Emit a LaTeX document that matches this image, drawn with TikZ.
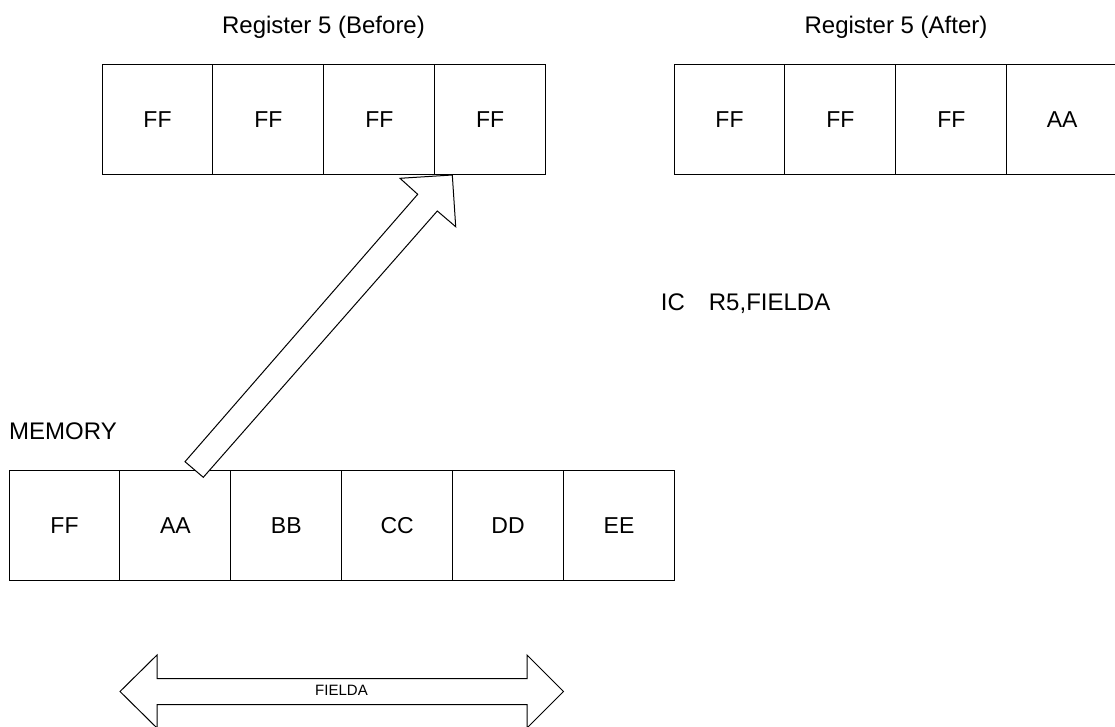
\documentclass[tikz,border=0pt]{standalone}
\usepackage{fontspec}
\setmainfont{Liberation Sans}
\begin{document}
\begin{tikzpicture}[x=1pt,y=-1pt,
  cell/.style={draw=black, line width=1pt, minimum width=110.9pt, minimum height=110.9pt, inner sep=0pt, font=\fontsize{23}{27}\selectfont},
  lbl/.style={inner sep=0pt, font=\fontsize{24}{28}\selectfont},
  small/.style={inner sep=0pt, font=\fontsize{15}{18}\selectfont},
  blockarrow/.style={draw=black, fill=white, line width=1pt, line join=miter}]
\clip (0,0) rectangle (1115,727);
\fill[white] (0,0) rectangle (1115,727);
% titles
\node[lbl, anchor=base] (tbefore) at (323.5,33.3) {Register 5 (Before)};
\node[lbl, anchor=base] (tafter) at (896,33.3) {Register 5 (After)};
% register before
\node[cell] (b1) at (157.5,119.5) {FF};
\node[cell] (b2) at (268.4,119.5) {FF};
\node[cell] (b3) at (379.3,119.5) {FF};
\node[cell] (b4) at (490.2,119.5) {FF};
% register after
\node[cell] (a1) at (729.5,119.5) {FF};
\node[cell] (a2) at (840.4,119.5) {FF};
\node[cell] (a3) at (951.3,119.5) {FF};
\node[cell] (a4) at (1062.2,119.5) {AA};
% instruction
\node[lbl, anchor=base west] (ic) at (660.7,310.7) {IC\hspace{24pt}R5,FIELDA};
% memory
\node[lbl, anchor=base west] (mem) at (9,439) {MEMORY};
\node[cell] (m1) at (64.5,525.5) {FF};
\node[cell] (m2) at (175.4,525.5) {AA};
\node[cell] (m3) at (286.3,525.5) {BB};
\node[cell] (m4) at (397.2,525.5) {CC};
\node[cell] (m5) at (508.1,525.5) {DD};
\node[cell] (m6) at (619.0,525.5) {EE};
% block arrow from memory AA to register byte 4
\draw[blockarrow] (185,461.7) -- (417.7,194.3) -- (400,178.3) -- (452.3,175)
  -- (455.7,226.7) -- (437.3,211) -- (203.3,477.3) -- cycle;
% FIELDA double arrow
\draw[blockarrow] (120,691.5) -- (157,655) -- (157,678.5) -- (527,678.5) -- (527,655)
  -- (563.5,691.5) -- (527,728) -- (527,704.5) -- (157,704.5) -- (157,728) -- cycle;
\node[small] (fieldalbl) at (341.5,690.5) {FIELDA};
\end{tikzpicture}
\end{document}
